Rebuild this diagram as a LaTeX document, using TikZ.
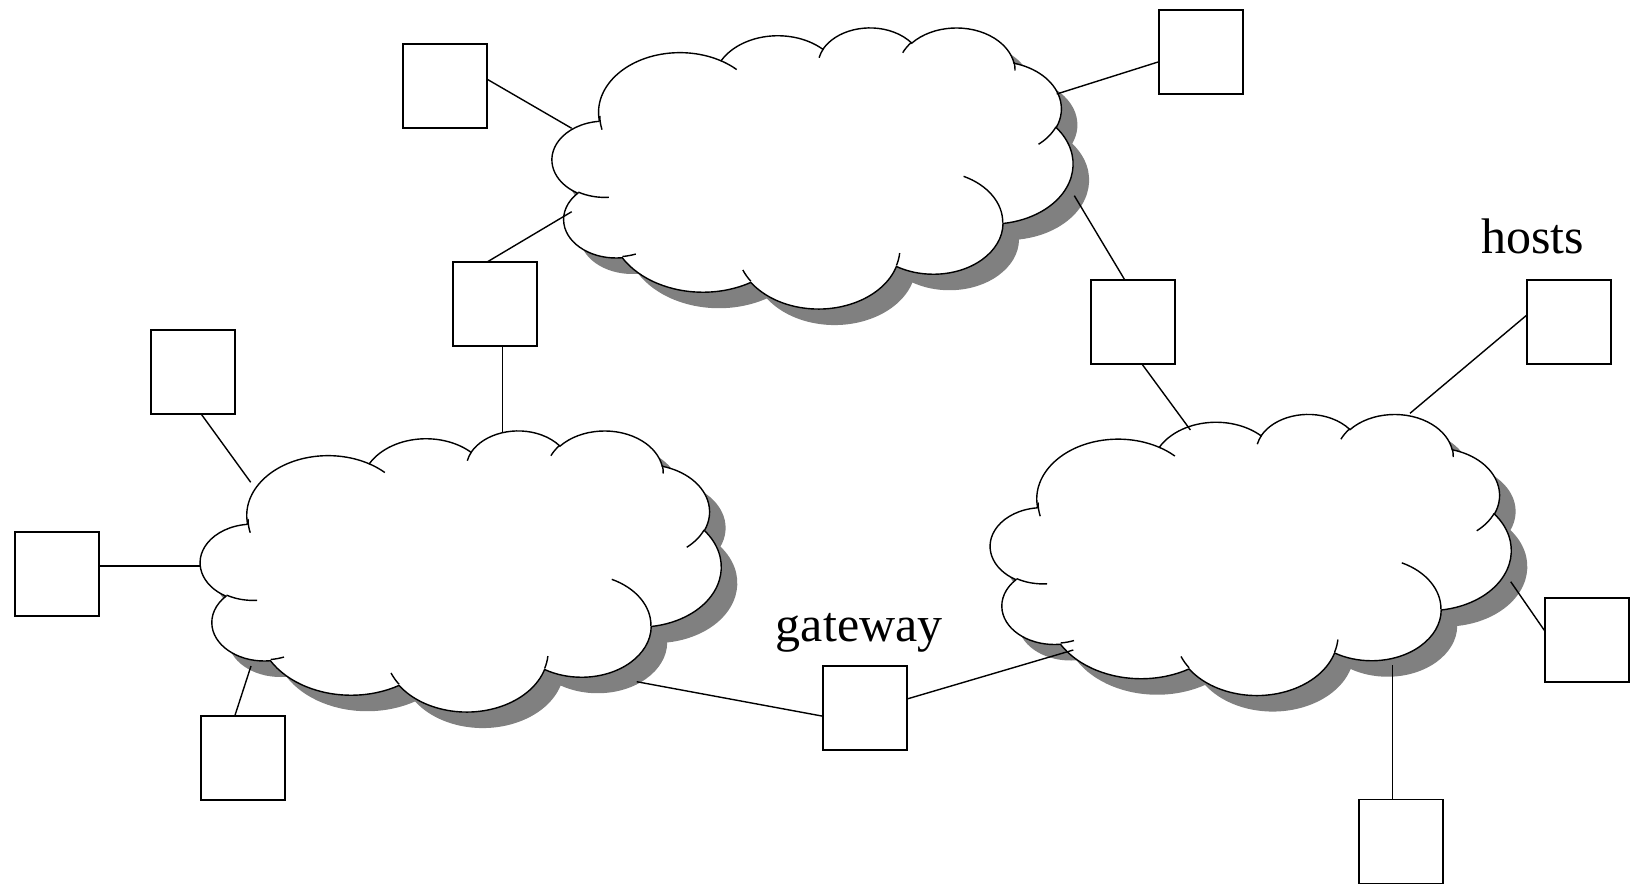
\documentclass[tikz,border=0pt]{standalone}
\usepackage{fontspec}
\setmainfont{Liberation Serif}

% ---- cloud outline built from elliptical arcs (43.2 x 43.2 frame, y down) ----
% \addarc{x radius}{y radius}{start angle}{sweep}: angles are visual angles,
% converted here to the parametric angles that TikZ's arc expects.
\newcommand\addarc[4]{%
  \pgfmathsetmacro\arcT{atan2((#1)*sin(#3),(#2)*cos(#3))}%
  \pgfmathsetmacro\arcU{atan2((#1)*sin((#3)+(#4)),(#2)*cos((#3)+(#4)))}%
  \pgfmathsetmacro\arcD{mod(\arcU-\arcT+720,360)}%
  \xdef\cloudbuf{\cloudbuf arc[start angle=\arcT, delta angle=\arcD, x radius=#1, y radius=#2] }}
\newcommand\addhook[6]{%
  \xdef\cloudbuf{\cloudbuf (#1,#2) }%
  \addarc{#3}{#4}{#5}{#6}}

% outer outline
\gdef\cloudbuf{(3.900,14.370) }
\addarc{6.753}{9.190}{-190.48748}{123.78053}
\addarc{5.333}{7.267}{-144.10238}{89.94523}
\addarc{4.365}{5.945}{-145.80792}{99.72302}
\addarc{4.857}{6.595}{-130.98607}{117.24173}
\addarc{5.333}{7.273}{-78.70888}{109.02692}
\addarc{6.775}{9.220}{-46.26725}{130.26900}
\addarc{5.785}{7.867}{0.62502}{114.03333}
\addarc{6.752}{9.215}{22.45160}{115.17255}
\addarc{7.720}{10.543}{66.24263}{75.71102}
\addarc{4.360}{5.918}{-274.94208}{146.73557}
\addarc{4.345}{5.945}{-246.82850}{152.51885}
\xdef\cloudbuf{\cloudbuf -- cycle}
\global\let\cloudoutline\cloudbuf

% inner curls
\gdef\cloudbuf{}
\addhook{4.693}{26.177}{4.345}{5.945}{86.7420}{26.4295}
\addhook{6.928}{34.899}{4.360}{5.918}{73.6105}{11.4475}
\addhook{16.478}{39.090}{6.752}{9.215}{137.6242}{14.0811}
\addhook{28.827}{34.751}{6.752}{9.215}{6.4533}{15.9984}
\addhook{34.129}{22.954}{5.785}{7.867}{-70.2924}{70.9174}
\addhook{41.798}{15.354}{5.333}{7.273}{30.3180}{27.7515}
\addhook{38.324}{5.426}{4.857}{6.595}{-13.7443}{14.8589}
\addhook{29.078}{3.952}{4.857}{6.595}{-149.1815}{18.1954}
\addhook{22.141}{4.720}{4.365}{5.945}{-163.4943}{17.6864}
\addhook{14.000}{5.192}{6.753}{9.190}{-66.7070}{12.3194}
\addhook{4.127}{15.789}{6.753}{9.190}{162.0372}{17.7880}
\global\let\cloudcurls\cloudbuf

\tikzset{
  host/.style={draw, line width=0.8pt, fill=white, minimum width=42pt,
    minimum height=42pt, inner sep=0pt, outer sep=0pt},
  link/.style={line width=0.7pt},
  cloudline/.style={line width=0.7pt},
  cloudshadow/.style={fill=gray},
  tag/.style={inner sep=0pt, anchor=base west, font=\fontsize{25}{30}\selectfont},
}

% a network cloud: top-left corner of its frame, drop shadow included
\newcommand\netcloud[2]{%
  \begin{scope}[shift={(#1,#2)}, xscale=12.05, yscale=6.505]
    \fill[cloudshadow, shift={(1.33,2.46)}] \cloudoutline;
    \filldraw[cloudline, fill=white] \cloudoutline;
    \draw[cloudline] \cloudcurls;
  \end{scope}}

\begin{document}
\begin{tikzpicture}[x=0.5pt, y=-0.5pt]
\useasboundingbox (0,0) rectangle (1631,884);

% clouds
\netcloud{552.3}{27}
\netcloud{200.5}{430}
\netcloud{990.5}{413.5}

% attachment points on the clouds
\coordinate (c1w1) at (571.7,128.3);
\coordinate (c1w2) at (571.7,211.7);
\coordinate (c1e1) at (1056.7,94);
\coordinate (c1e2) at (1074.3,195.7);
\coordinate (c2n)  at (502.3,432);
\coordinate (c2w1) at (250.7,482.3);
\coordinate (c2w2) at (200,566);
\coordinate (c2s)  at (251,666);
\coordinate (c2e)  at (636.7,681.7);
\coordinate (c3n1) at (1190.4,430);
\coordinate (c3n2) at (1410,413.3);
\coordinate (c3w)  at (1073.3,650);
\coordinate (c3e)  at (1510.7,581.7);
\coordinate (c3s)  at (1392.7,665);

% hosts and gateways
\node[host] (b1)  at (445,85.8) {};
\node[host] (b2)  at (1201,52) {};
\node[host] (b3)  at (495,303.7) {};
\node[host] (b4)  at (1132.8,321.7) {};
\node[host] (b5)  at (1568.8,321.7) {};
\node[host] (b6)  at (193,372) {};
\node[host] (b7)  at (57,573.7) {};
\node[host] (b8)  at (243,757.8) {};
\node[host] (b9)  at (864.7,708) {};
\node[host] (b10) at (1586.7,639.8) {};
\node[host] (b11) at (1400.7,841.5) {};

% links
\draw[link] (b1.9) -- (c1w1);
\draw[link] (b3.100) -- (c1w2);
\draw[link] (b2.193) -- (c1e1);
\draw[link] (b4.101) -- (c1e2);
\draw[link] (c2n |- b3.south) -- (c2n);
\draw[link] (b4.-78) -- (c3n1);
\draw[link] (b5.171) -- (c3n2);
\draw[link] (b6.-79) -- (c2w1);
\draw[link] (c2w2 -| b7.east) -- (c2w2);
\draw[link] (b8.101) -- (c2s);
\draw[link] (b9.191) -- (c2e);
\draw[link] (b9.12) -- (c3w);
\draw[link] (b10.168) -- (c3e);
\draw[link] (c3s |- b11.north) -- (c3s);

% labels
\node[tag] (hosts) at (1481,253.3) {hosts};
\node[tag] (gateway) at (775.5,641) {gateway};
\end{tikzpicture}
\end{document}
